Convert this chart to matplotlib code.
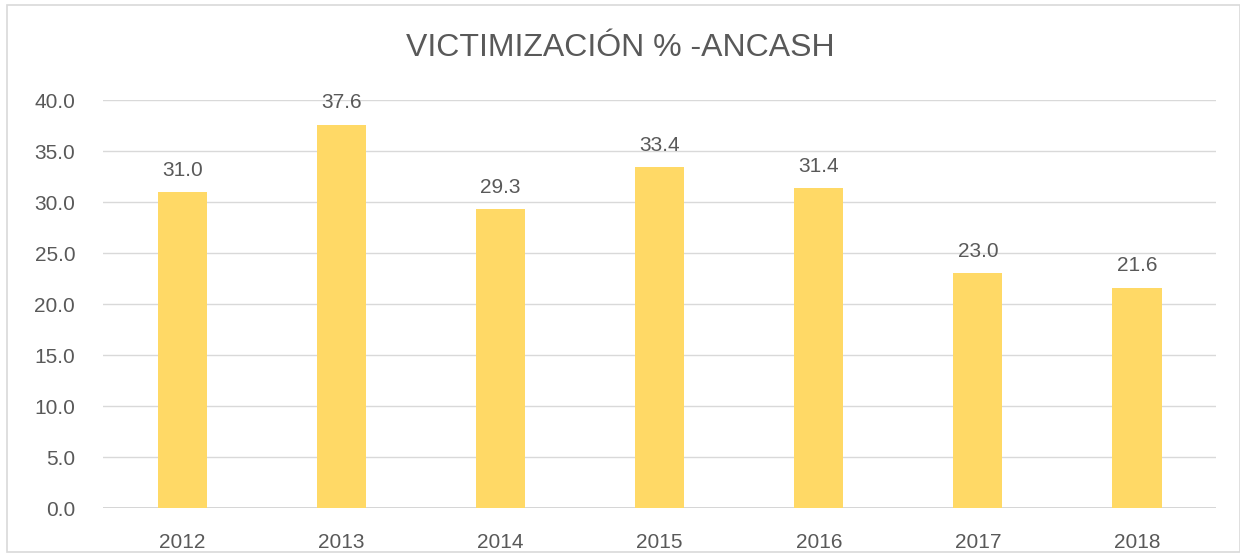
import matplotlib.pyplot as plt
from matplotlib.patches import Rectangle

# data
years = ['2012', '2013', '2014', '2015', '2016', '2017', '2018']
values = [31.0, 37.6, 29.3, 33.4, 31.4, 23.0, 21.6]

text_color = '#595959'
plt.rcParams['font.family'] = ['Liberation Sans', 'DejaVu Sans']

fig = plt.figure(figsize=(12.4, 5.56), dpi=100)
ax = fig.add_axes([0.083, 0.0863, 0.898, 0.7337])

bars = ax.bar(range(len(years)), values, width=0.31, color='#FFD966', zorder=3)
for i, v in enumerate(values):
    ax.text(i, v + 1.2, f'{v:.1f}', ha='center', va='bottom', fontsize=15, color=text_color)

ax.set_xlim(-0.5, len(years) - 0.5)
ax.set_ylim(0, 40)
ax.set_yticks(range(0, 41, 5))
ax.set_yticklabels([f'{t:.1f}' for t in range(0, 41, 5)])
ax.set_xticks(range(len(years)))
ax.set_xticklabels(years)
ax.grid(axis='y', color='#D9D9D9', linewidth=1, zorder=0)
ax.axhline(0, color='#D0D0D0', linewidth=1.2, zorder=2)
ax.tick_params(length=0, labelsize=15, colors=text_color)
ax.tick_params(axis='y', pad=20)
ax.tick_params(axis='x', pad=18)
for s in ax.spines.values():
    s.set_visible(False)

fig.text(0.5, 0.913, 'VICTIMIZACIÓN % -ANCASH', ha='center', va='center', fontsize=23, color=text_color)

# outer chart border
fig.patches.append(Rectangle((0.006, 0.007), 0.994, 0.984, transform=fig.transFigure,
                             fill=False, edgecolor='#D9D9D9', linewidth=1.2))

fig.savefig('out.png', dpi=100)
